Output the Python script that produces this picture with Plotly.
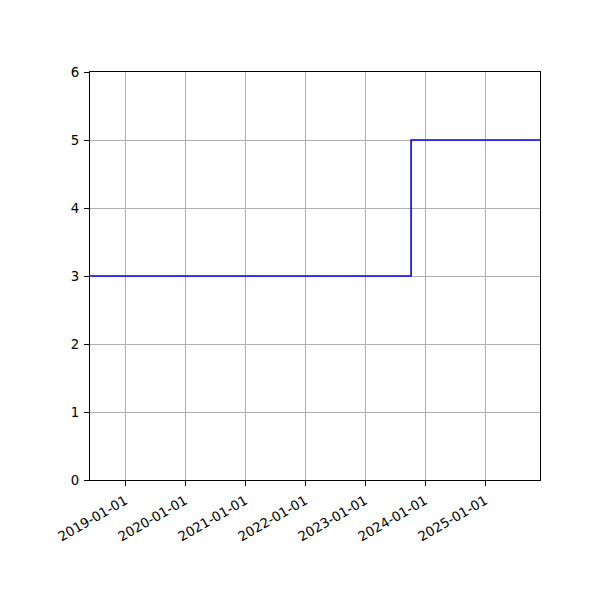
import plotly.graph_objects as go

# step series
dates = ["2018-06-01", "2023-10-08", "2025-12-01"]
values = [3, 5, 5]

tick_dates = ["2019-01-01", "2020-01-01", "2021-01-01", "2022-01-01",
              "2023-01-01", "2024-01-01", "2025-01-01"]
y_ticks = [0, 1, 2, 3, 4, 5, 6]

fig = go.Figure(
    data=[
        go.Scatter(
            x=dates,
            y=values,
            mode="lines",
            line=dict(color="blue", width=1.6, shape="hv"),
            hoverinfo="none",
        )
    ],
    layout=dict(
        width=600,
        height=600,
        # page body adds 8px, so margins are trimmed to land the axes where the reference has them
        margin=dict(l=82, r=68, t=64, b=128),
        paper_bgcolor="white",
        plot_bgcolor="white",
        font=dict(family="DejaVu Sans", size=13.3, color="black"),
        showlegend=False,
        xaxis=dict(
            type="date",
            range=["2018-06-01", "2025-12-01"],
            tickvals=tick_dates,
            ticktext=tick_dates,
            tickangle=-30,
            ticklabelstandoff=2,
            showgrid=True,
            gridcolor="#b0b0b0",
            gridwidth=1,
            showline=True,
            linecolor="black",
            linewidth=1,
            mirror=True,
            ticks="outside",
            ticklen=5,
            tickcolor="black",
            zeroline=False,
        ),
        yaxis=dict(
            range=[0, 6],
            tickvals=y_ticks,
            ticklabelstandoff=2,
            showgrid=True,
            gridcolor="#b0b0b0",
            gridwidth=1,
            showline=True,
            linecolor="black",
            linewidth=1,
            mirror=True,
            ticks="outside",
            ticklen=5,
            tickcolor="black",
            zeroline=False,
        ),
    ),
)

fig.write_html("out.html")
